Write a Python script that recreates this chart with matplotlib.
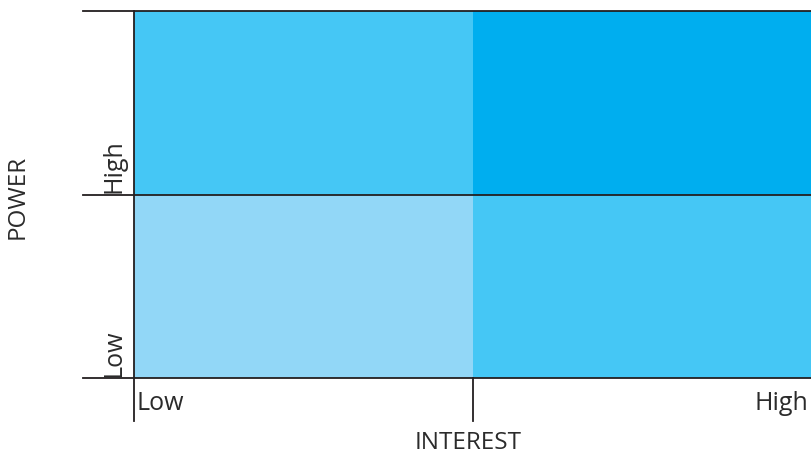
import matplotlib
matplotlib.use("Agg")
import matplotlib.pyplot as plt
import numpy as np
from matplotlib.colors import ListedColormap

# Data
x_labels = ["Low", "High"]
y_labels = ["Low", "High"]
x_title = "INTEREST"
y_title = "POWER"
# cell colour index: rows = power (Low, High), cols = interest (Low, High)
cell_levels = np.array([[0, 1],
                        [1, 2]])
level_colors = ["#92D7F7", "#45C7F5", "#00AEEF"]

plt.rcParams['font.family'] = ['Open Sans', 'DejaVu Sans']
text_color = "#2B2B2B"
line_color = "#231F20"

W, H = 812, 454
fig = plt.figure(figsize=(W / 100, H / 100), dpi=100)
left, right, top, bottom = 134, 812, 11, 378
ax = fig.add_axes([left / W, 1 - bottom / H, (right - left) / W, (bottom - top) / H])

cmap = ListedColormap(level_colors)
ax.pcolormesh(np.arange(3), np.arange(3), cell_levels, cmap=cmap, vmin=-0.5, vmax=2.5)
ax.set_xlim(0, 2)
ax.set_ylim(0, 2)
ax.set_axis_off()

aw = right - left
ah = bottom - top
x_ext = -(left - 83) / aw
y_ext = -(421 - bottom) / ah
lw = 1.3
for yv in [0, 0.5, 1]:
    ax.plot([x_ext, 1], [yv, yv], transform=ax.transAxes, color=line_color, lw=lw, clip_on=False)
ax.plot([0, 0], [1, y_ext], transform=ax.transAxes, color=line_color, lw=lw, clip_on=False)
ax.plot([0.5, 0.5], [0, y_ext], transform=ax.transAxes, color=line_color, lw=lw, clip_on=False)

fs = 18
# x tick labels
ax.text(0.003, -0.036, x_labels[0], transform=ax.transAxes, ha='left', va='top', fontsize=fs, color=text_color)
ax.text(0.995, -0.036, x_labels[1], transform=ax.transAxes, ha='right', va='top', fontsize=fs, color=text_color)
# y tick labels
ax.text(-0.011, 0.004, y_labels[0], transform=ax.transAxes, ha='right', va='bottom', rotation=90, fontsize=fs, color=text_color)
ax.text(-0.011, 0.504, y_labels[1], transform=ax.transAxes, ha='right', va='bottom', rotation=90, fontsize=fs, color=text_color)

fig.text(468 / W, 1 - 443 / H, x_title, ha='center', va='center', fontsize=17.5, color=text_color)
fig.text(18 / W, 1 - 197 / H, y_title, ha='center', va='center', rotation=90, fontsize=17.5, color=text_color)

fig.savefig("out.png", dpi=100)
